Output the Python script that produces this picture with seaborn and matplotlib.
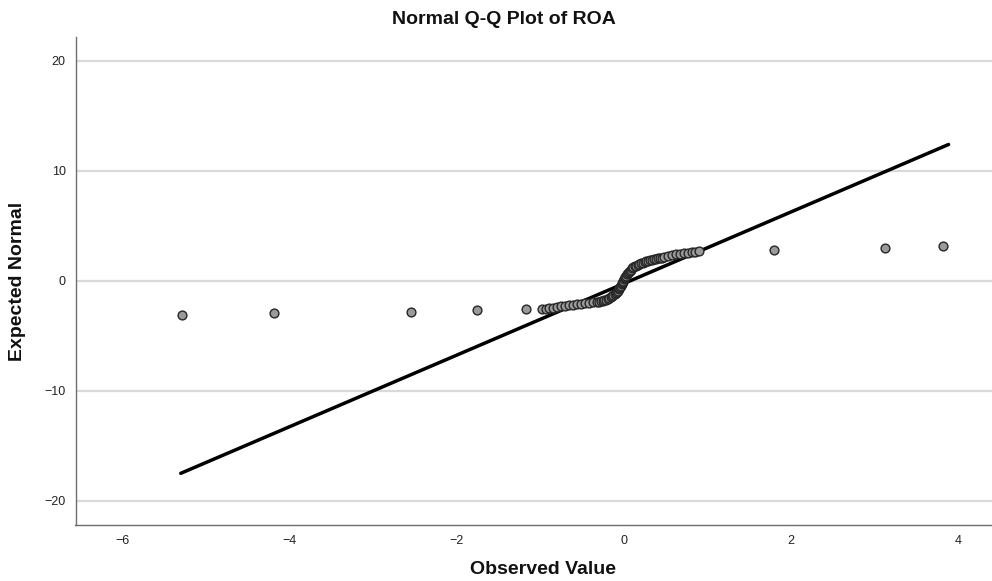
import matplotlib
matplotlib.use("Agg")
import matplotlib.pyplot as plt
import seaborn as sns
import pandas as pd

observed = [
    -5.28, -4.19, -2.55, -1.76, -1.17,
    -0.974, -0.934, -0.887, -0.839, -0.791, -0.743, -0.695, -0.648, -0.600,
    -0.552, -0.504, -0.456, -0.409, -0.361, -0.313, -0.292, -0.271, -0.250,
    -0.229, -0.208, -0.188, -0.170, -0.152, -0.137, -0.122, -0.107, -0.092,
    -0.080, -0.068, -0.059, -0.050, -0.041, -0.032, -0.024, -0.017, -0.009,
    -0.002, 0.005, 0.013, 0.021, 0.030, 0.039, 0.049, 0.060, 0.073, 0.087,
    0.102, 0.118, 0.135, 0.153, 0.171, 0.190, 0.210, 0.231, 0.252, 0.274,
    0.296, 0.319, 0.342, 0.365, 0.388, 0.412, 0.436, 0.460, 0.484,
    0.529, 0.577, 0.625, 0.673, 0.720, 0.768, 0.816, 0.858, 0.897,
    1.80, 3.13, 3.82,
]
expected = [
    -3.10, -2.92, -2.83, -2.65, -2.56,
    -2.57, -2.53, -2.48, -2.43, -2.37, -2.32, -2.26, -2.21, -2.16,
    -2.12, -2.08, -2.05, -2.01, -1.96, -1.92, -1.89, -1.85, -1.80,
    -1.75, -1.70, -1.64, -1.56, -1.48, -1.39, -1.30, -1.21, -1.12,
    -1.00, -0.89, -0.77, -0.66, -0.55, -0.44, -0.32, -0.21, -0.10,
    0.02, 0.13, 0.25, 0.36, 0.47, 0.58, 0.70, 0.82, 0.93, 1.03,
    1.13, 1.22, 1.31, 1.39, 1.46, 1.53, 1.59, 1.65, 1.70, 1.76,
    1.81, 1.86, 1.90, 1.95, 1.99, 2.04, 2.08, 2.12, 2.16,
    2.29, 2.35, 2.41, 2.45, 2.50, 2.55, 2.60, 2.65, 2.73,
    2.83, 3.00, 3.20,
]

# Reference line endpoints
line_x = [-5.30, 3.89]
line_y = [-17.5, 12.4]

x_ticks = [-6, -4, -2, 0, 2, 4]
y_ticks = [-20, -10, 0, 10, 20]

title = "Normal Q-Q Plot of ROA"
x_label = "Observed Value"
y_label = "Expected Normal"

sns.set_theme(style="white")
plt.rcParams["font.family"] = ["Liberation Sans", "DejaVu Sans"]

W, H = 992, 581
fig = plt.figure(figsize=(W / 100, H / 100), dpi=100)
left, right, top, bottom = 75.5, 992, 36.7, 525
ax = fig.add_axes([left / W, (H - bottom) / H, (right - left) / W, (bottom - top) / H])

df = pd.DataFrame({"observed": observed, "expected": expected})

for yt in y_ticks:
    ax.axhline(yt, color="#d9d9d9", lw=1.6, zorder=0)

sns.lineplot(x=line_x, y=line_y, color="black", lw=2.5, ax=ax, zorder=2)
sns.scatterplot(data=df, x="observed", y="expected", s=40, color="#9a9a9a",
                edgecolor="#262626", linewidth=1.0, ax=ax, zorder=3)

ax.set_xlim(-6.56, 4.41)
ax.set_ylim(-22.2, 22.2)
ax.set_xticks(x_ticks)
ax.set_yticks(y_ticks)
ax.set_xticklabels([str(v).replace("-", "\u2212") for v in x_ticks])
ax.set_yticklabels([str(v).replace("-", "\u2212") for v in y_ticks])
ax.tick_params(axis="both", length=0, labelsize=9, colors="#222222", pad=7)
ax.grid(False)

for side in ["top", "right"]:
    ax.spines[side].set_visible(False)
for side in ["left", "bottom"]:
    ax.spines[side].set_color("#6e6e6e")
    ax.spines[side].set_linewidth(1.0)

ax.set_xlabel("")
ax.set_ylabel("")
fig.text(504 / W, 1 - 20 / H, title, ha="center", va="center",
         fontsize=14, fontweight="bold", color="#111111")
fig.text(543 / W, 1 - 569 / H, x_label, ha="center", va="center",
         fontsize=14, fontweight="bold", color="#111111")
fig.text(18 / W, 1 - 281 / H, y_label, ha="center", va="center", rotation=90,
         fontsize=14, fontweight="bold", color="#111111")

fig.savefig("out.png", dpi=100)
